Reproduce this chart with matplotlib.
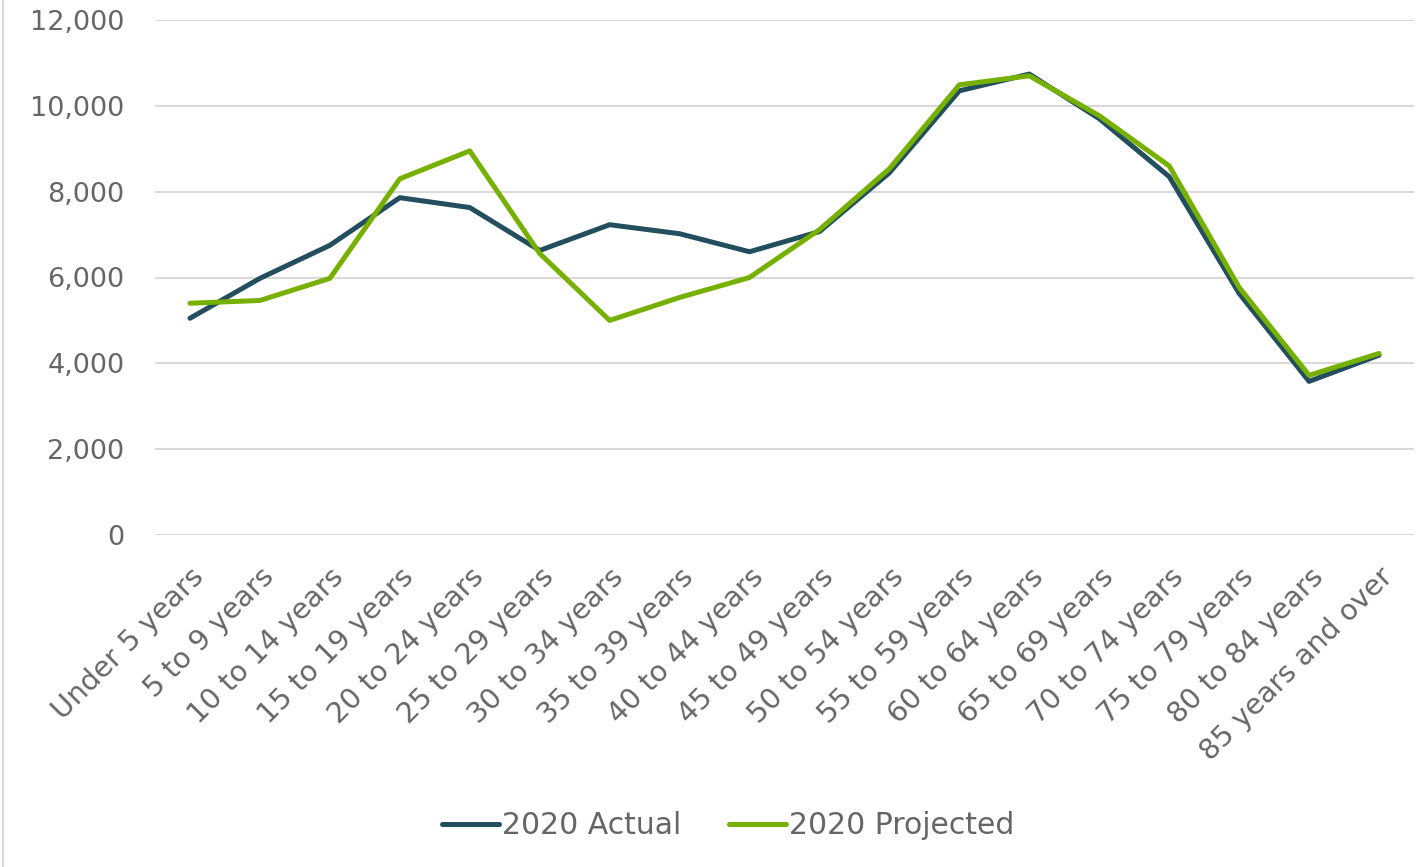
import matplotlib
matplotlib.use("Agg")
import matplotlib.pyplot as plt
from matplotlib.lines import Line2D

categories = ["Under 5 years", "5 to 9 years", "10 to 14 years", "15 to 19 years",
              "20 to 24 years", "25 to 29 years", "30 to 34 years", "35 to 39 years",
              "40 to 44 years", "45 to 49 years", "50 to 54 years", "55 to 59 years",
              "60 to 64 years", "65 to 69 years", "70 to 74 years", "75 to 79 years",
              "80 to 84 years", "85 years and over"]
actual = [5050, 5980, 6750, 7860, 7630, 6630, 7230, 7020, 6600, 7070,
          8440, 10350, 10740, 9700, 8350, 5630, 3580, 4190]
projected = [5400, 5465, 5980, 8300, 8950, 6560, 5000, 5535, 6000, 7115,
             8535, 10490, 10700, 9770, 8600, 5770, 3720, 4230]
yticks = [0, 2000, 4000, 6000, 8000, 10000, 12000]

text_color = "#666666"
plt.rcParams['font.family'] = ['DejaVu Sans']

fig = plt.figure(figsize=(14.16, 8.67), dpi=100)
ax = fig.add_axes([155 / 1416, 332 / 867, 1259 / 1416, 515 / 867])

x = list(range(len(categories)))
ax.plot(x, actual, color="#234E5E", lw=3.6, solid_capstyle="round", label="2020 Actual", zorder=3)
ax.plot(x, projected, color="#76B000", lw=3.6, solid_capstyle="round", label="2020 Projected", zorder=4)

ax.set_xlim(-0.5, len(categories) - 0.5)
ax.set_ylim(0, 12000)
ax.set_yticks(yticks)
ax.set_yticklabels([f"{v:,}" for v in yticks], fontsize=19.5, color=text_color)
ax.set_xticks(x)
ax.set_xticklabels(categories, rotation=45, ha="right", rotation_mode="anchor",
                   fontsize=20.5, color=text_color)
ax.tick_params(axis="x", length=0, pad=20)
ax.tick_params(axis="y", length=0, pad=22)
ax.yaxis.grid(True, color="#d9d9d9", lw=1.5)
ax.set_axisbelow(True)
for s in ax.spines.values():
    s.set_visible(False)

leg = fig.legend(loc="center", bbox_to_anchor=(728 / 1416, 1 - 826 / 867), ncol=2,
                 frameon=False, fontsize=21.5, handlelength=1.9, handletextpad=0.1,
                 columnspacing=1.6)
for t in leg.get_texts():
    t.set_color(text_color)

fig.add_artist(Line2D([3 / 1416, 3 / 1416], [0, 1], color="#d9d9d9", lw=1.5))

fig.savefig("out.png", dpi=100)
